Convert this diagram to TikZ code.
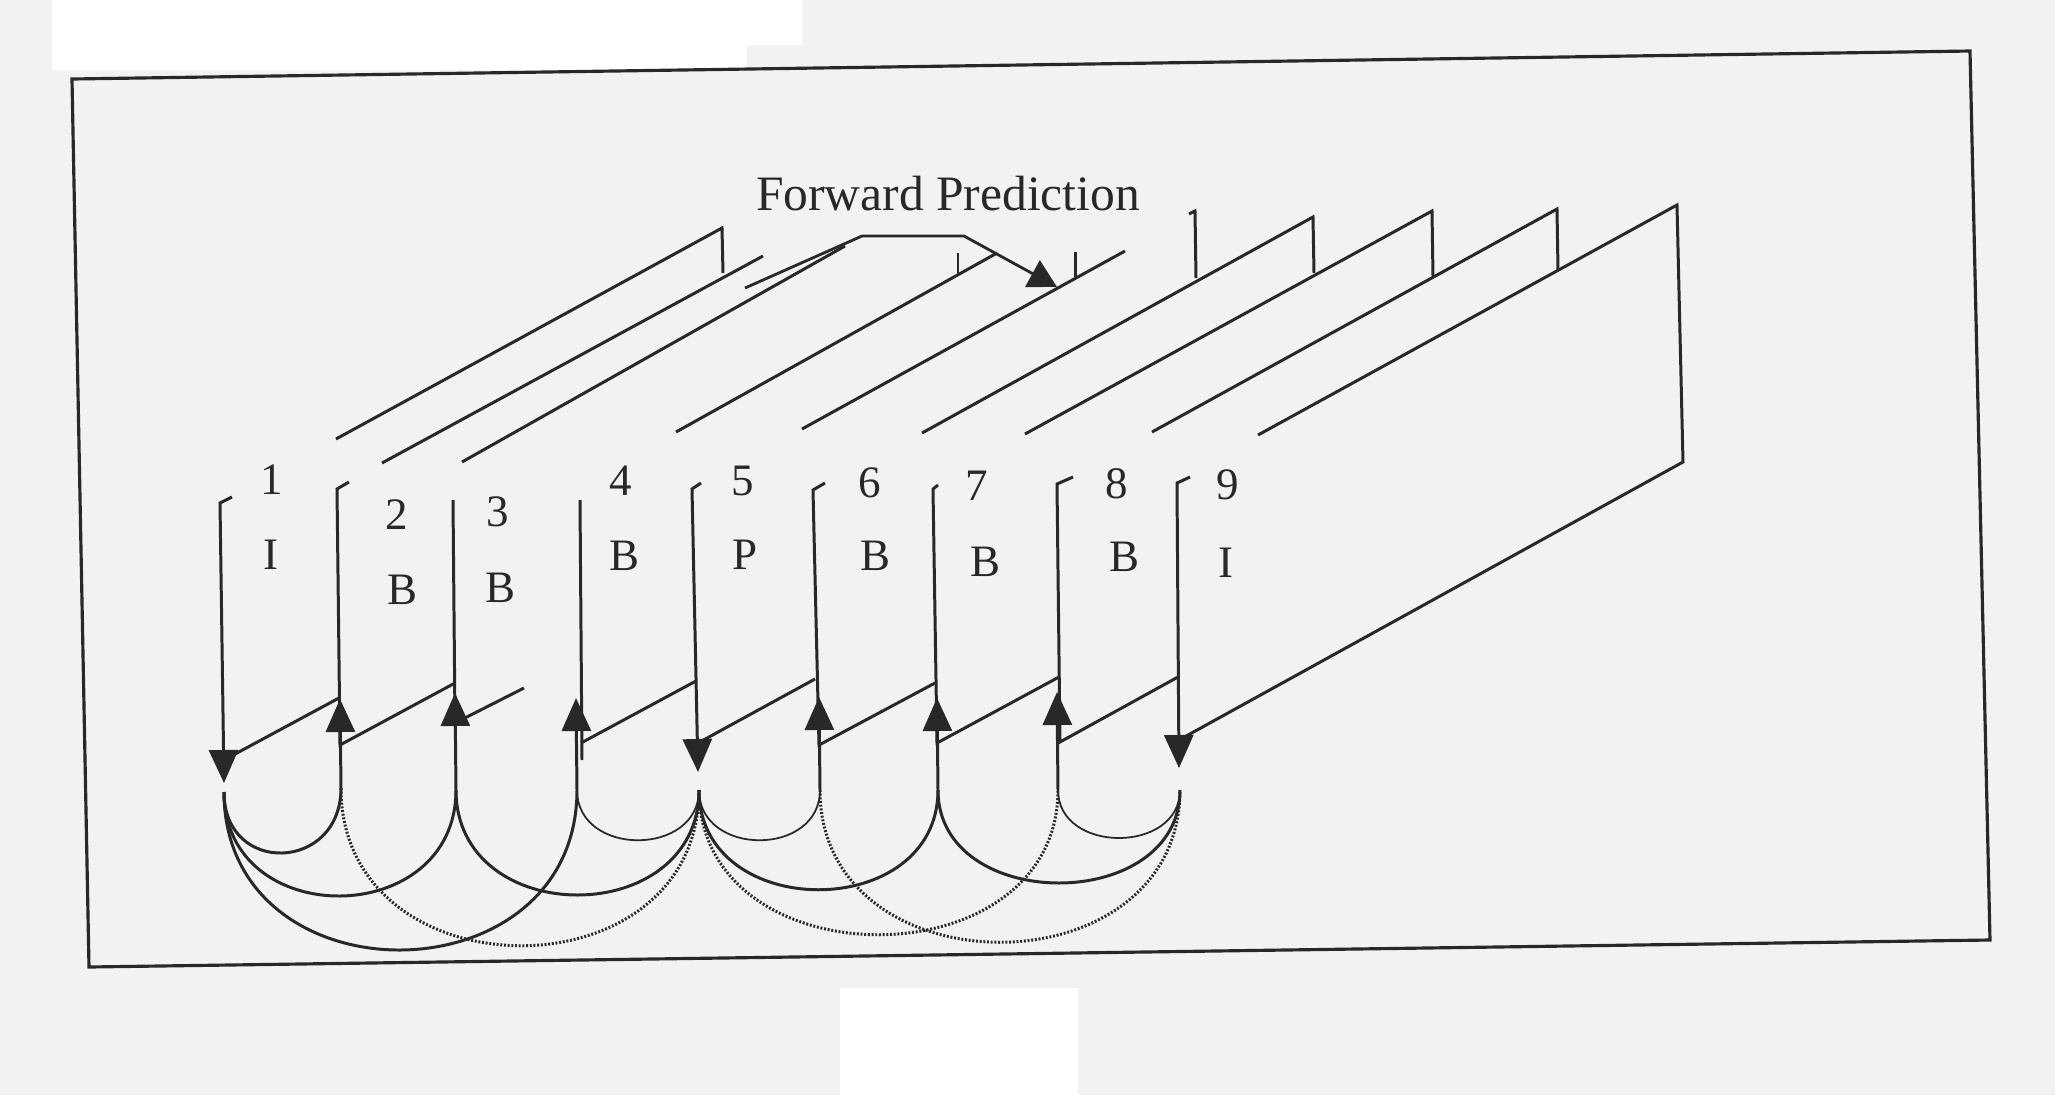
\documentclass[tikz,border=0pt]{standalone}
\usepackage{xcolor}
\usepackage{tikz}
\usepackage{fontspec}
\setmainfont{Liberation Serif}
\usetikzlibrary{positioning, arrows.meta}
\definecolor{scanpaper}{RGB}{242,242,242}
\definecolor{scanink}{RGB}{40,40,40}

\begin{document}
\begin{tikzpicture}[x=0.1mm, y=-0.1mm,
    edge/.style={draw=scanink, line width=0.85pt},
    thinarc/.style={draw=scanink, line width=0.5pt},
    dotarc/.style={draw=scanink, line width=0.85pt, dash pattern=on 0.55pt off 0.5pt},
    ref/.style={draw=scanink, line width=0.85pt, -{Triangle[length=3.3mm, width=2.9mm]}},
    lead/.style={draw=scanink, line width=0.8pt, -{Triangle[length=2.8mm, width=3mm]}},
    lbl/.style={text=scanink, font=\fontsize{12.8}{14}\selectfont, inner sep=0pt}]

  \useasboundingbox (0,0) rectangle (2055,1095);
  \fill[scanpaper] (0,0) rectangle (2055,1095);
  \fill[white] (52,0) -- (802,0) -- (802,45) -- (747,45) -- (747,70) -- (52,70) -- cycle;
  \fill[white] (840,988) rectangle (1078,1095);
  \draw[scanink, line width=0.9pt] (72,79) -- (1970,51) -- (1990,940) -- (89,967) -- cycle;

  \node[text=scanink, font=\fontsize{14.1}{16}\selectfont, inner sep=0pt] (fwd) at (948,194) {Forward Prediction};

  \foreach \i/\nx/\ny/\tp/\tx/\ty in {1/272/480/I/271/555, 2/397/515/B/403/590, 3/498/512/B/501/588,
      4/621/481/B/624/556, 5/743/481/P/745/555, 6/870/483/B/875/556, 7/977/486/B/985/562,
      8/1117/484/B/1124/557, 9/1228/485/I/1226/563} {
    \node[lbl] (num\i) at (\nx,\ny) {\i};
    \node[lbl] (kind\i) at (\tx,\ty) {\tp};
  }

  \coordinate (h1) at (224,783);
  \coordinate (h2) at (340,699);
  \coordinate (h3) at (455,693);
  \coordinate (h4) at (576,698);
  \coordinate (h5) at (698,772);
  \coordinate (h6) at (819,697);
  \coordinate (h7) at (937,698);
  \coordinate (h8) at (1057,692);
  \coordinate (h9) at (1179,768);

  \coordinate (a1) at (224,792);
  \coordinate (a2) at (341,788);
  \coordinate (a3) at (456,790);
  \coordinate (a4) at (577,790);
  \coordinate (a5) at (699,790);
  \coordinate (a6) at (820,790);
  \coordinate (a7) at (938,790);
  \coordinate (a8) at (1058,790);
  \coordinate (a9) at (1180,790);

  \draw[edge] (336,439) -- (722,228) -- (723,273);
  \draw[edge] (224,760) -- (339,698);
  \draw[ref] (232,497) -- (220,503) -- (h1);

  \draw[edge] (382,463) -- (763,256);
  \draw[edge] (349,482) -- (337,489) -- (340,745) -- (455,683);
  \draw[ref] (a2) -- (h2);

  \draw[edge] (462,462) -- (845,246);
  \draw[edge] (958,253) -- (958,275);
  \draw[edge] (453,500) -- (455,723) -- (524,688);
  \draw[ref] (a3) -- (h3);

  \draw[edge] (676,432) -- (997,253);
  \draw[edge] (1075,252) -- (1075,278);
  \draw[edge] (580,500) -- (582,760);
  \draw[edge] (581,743) -- (696,681);
  \draw[ref] (a4) -- (h4);

  \draw[edge] (802,429) -- (1125,251);
  \draw[edge] (1189,214) -- (1195,211) -- (1196,278);
  \draw[edge] (698,743) -- (815,679);
  \draw[ref] (701,483) -- (692,489) -- (h5);

  \draw[edge] (922,433) -- (1313,217) -- (1314,273);
  \draw[edge] (825,483) -- (813,490) -- (819,745) -- (935,683);
  \draw[ref] (a6) -- (h6);

  \draw[edge] (1025,434) -- (1432,211) -- (1433,276);
  \draw[edge] (938,485) -- (933,489) -- (937,743) -- (1059,677);
  \draw[ref] (a7) -- (h7);

  \draw[edge] (1152,432) -- (1557,209) -- (1558,270);
  \draw[edge] (1073,477) -- (1057,484) -- (1060,742) -- (1178,677);
  \draw[ref] (a8) -- (h8);

  \draw[edge] (1258,435) -- (1677,205) -- (1683,462) -- (1179,740);
  \draw[ref] (1190,477) -- (1177,483) -- (h9);

  \coordinate (fp1) at (745,288);
  \coordinate (fp2) at (862,236);
  \coordinate (fp3) at (964,236);
  \coordinate (fp4) at (1057,287);
  \draw[lead] (fp1) -- (fp2) -- (fp3) -- (fp4);

  \draw[edge] (a1) .. controls +(0,84) and +(0,84) .. (a2);
  \draw[edge] (a1) .. controls +(0,140) and +(0,140) .. (a3);
  \draw[edge] (a1) .. controls +(0,212) and +(0,212) .. (a4);
  \draw[edge] (a3) .. controls +(0,140) and +(0,140) .. (a5);
  \draw[edge] (a5) .. controls +(0,133) and +(0,133) .. (a7);
  \draw[edge] (a7) .. controls +(0,124) and +(0,124) .. (a9);
  \draw[thinarc] (a4) .. controls +(0,67) and +(0,67) .. (a5);
  \draw[thinarc] (a5) .. controls +(0,67) and +(0,67) .. (a6);
  \draw[thinarc] (a8) .. controls +(0,64) and +(0,64) .. (a9);
  \draw[dotarc] (a2) .. controls +(0,209) and +(0,209) .. (a5);
  \draw[dotarc] (a5) .. controls +(0,193) and +(0,193) .. (a8);
  \draw[dotarc] (a6) .. controls +(0,203) and +(0,203) .. (a9);
\end{tikzpicture}
\end{document}
